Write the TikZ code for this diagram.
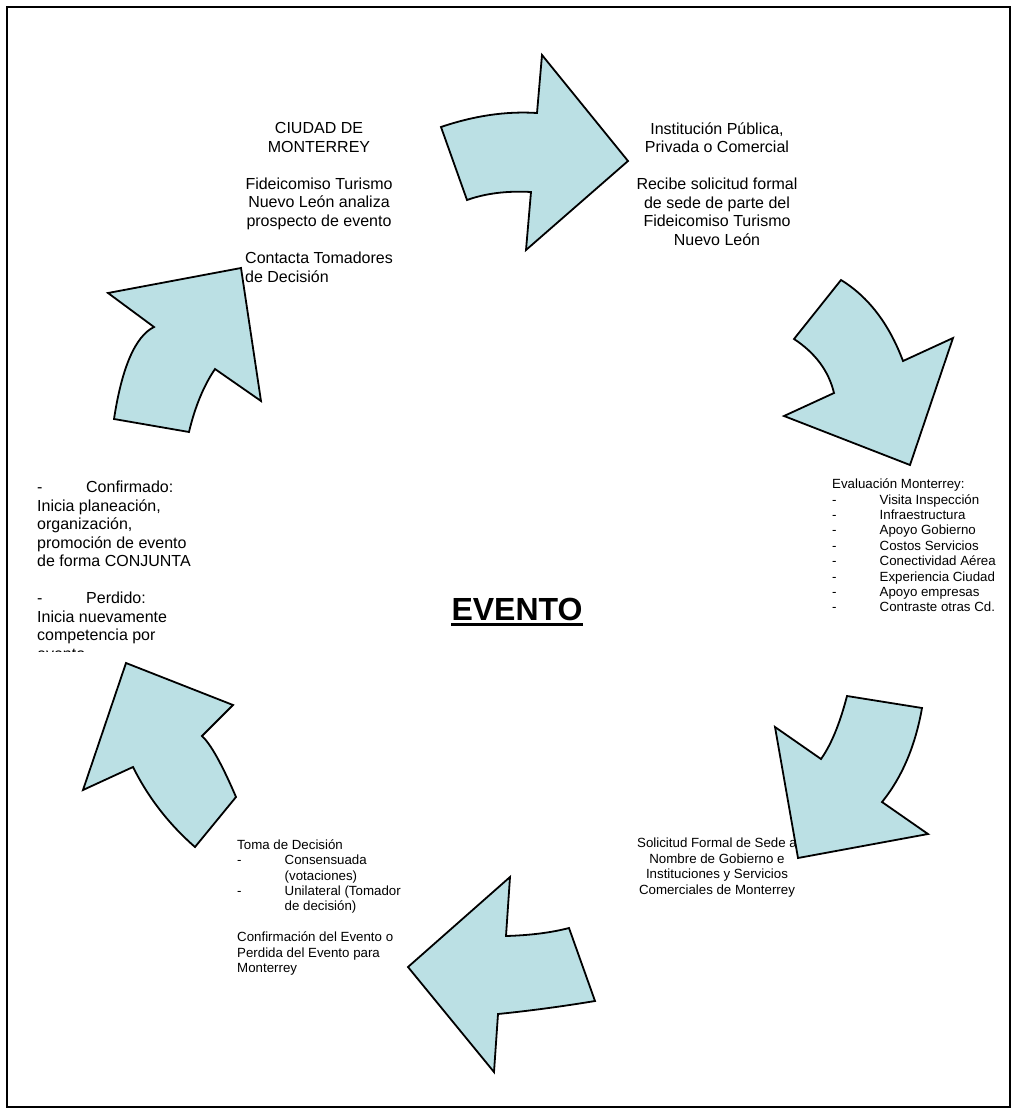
\documentclass[tikz,border=0pt]{standalone}
\usepackage{fontspec}
\setmainfont{Liberation Sans}
\usetikzlibrary{calc}
\definecolor{arrowfill}{RGB}{187,224,228}
\begin{document}
\begin{tikzpicture}[x=1pt,y=-1pt,
  cyclearrow/.style={fill=arrowfill,draw=black,line width=1.8pt,line join=miter},
  bigtext/.style={inner sep=0pt,font=\fontsize{16}{18.5}\selectfont},
  smalltext/.style={inner sep=0pt,font=\fontsize{13.3}{15.4}\selectfont}]
\useasboundingbox (0,0) rectangle (1017,1114);
\fill[white] (0,0) rectangle (1017,1114);
\draw[line width=1.4pt] (7,7) rectangle (1010,1107);

% ---- texts ----
\node[bigtext,align=center,anchor=north] (city) at (319,122.5)
  {CIUDAD DE\\MONTERREY\\[18.5pt]Fideicomiso Turismo\\Nuevo León analiza\\prospecto de evento};
\node[bigtext,align=left,anchor=north west] (contact) at (245,251.8)
  {Contacta Tomadores\\de Decisión};

\node[bigtext,align=center,anchor=north] (inst) at (717,122.2)
  {Institución Pública,\\Privada o Comercial\\[18.5pt]Recibe solicitud formal\\de sede de parte del\\Fideicomiso Turismo\\Nuevo León};

\node[smalltext,align=left,anchor=north west] (eval) at (832,478.6)
  {Evaluación Monterrey:\\
   \makebox[47.5pt][l]{-}Visita Inspección\\
   \makebox[47.5pt][l]{-}Infraestructura\\
   \makebox[47.5pt][l]{-}Apoyo Gobierno\\
   \makebox[47.5pt][l]{-}Costos Servicios\\
   \makebox[47.5pt][l]{-}Conectividad Aérea\\
   \makebox[47.5pt][l]{-}Experiencia Ciudad\\
   \makebox[47.5pt][l]{-}Apoyo empresas\\
   \makebox[47.5pt][l]{-}Contraste otras Cd.};

\begin{scope}
  \clip (0,470) rectangle (260,651);
  \node[bigtext,align=left,anchor=north west] (result) at (37,481)
    {\makebox[49pt][l]{-}Confirmado:\\
     Inicia planeación,\\
     organización,\\
     promoción de evento\\
     de forma CONJUNTA\\[18.5pt]
     \makebox[49pt][l]{-}Perdido:\\
     Inicia nuevamente\\
     competencia por\\
     evento};
\end{scope}

\node[smalltext,align=left,anchor=north west] (decision) at (237,839.3)
  {Toma de Decisión\\
   \makebox[47.5pt][l]{-}Consensuada\\
   \hspace*{47.5pt}(votaciones)\\
   \makebox[47.5pt][l]{-}Unilateral (Tomador\\
   \hspace*{47.5pt}de decisión)\\[15.4pt]
   Confirmación del Evento o\\
   Perdida del Evento para\\
   Monterrey};

\node[smalltext,align=center,anchor=north] (request) at (717,838)
  {Solicitud Formal de Sede a\\Nombre de Gobierno e\\Instituciones y Servicios\\Comerciales de Monterrey};

\node[inner sep=0pt,anchor=base,font=\fontsize{32}{36}\selectfont\bfseries] (evento) at (517,620) {EVENTO};
\draw[line width=2.3pt] ($(evento.base west)+(0,4.5)$) -- ($(evento.base east)+(0,4.5)$);

% ---- curved block arrows of the cycle ----
% top, pointing right
\draw[cyclearrow] (441,127) .. controls (474.3,115.7) and (506.3,111) .. (537,113)
  -- (542,55) -- (628,161) -- (526,250) -- (531,192)
  .. controls (507,190.7) and (485.7,193.3) .. (467,200) -- cycle;
% upper right, pointing down-right
\draw[cyclearrow] (841,280) .. controls (868.3,296.7) and (889,323.7) .. (903,361)
  -- (953,338) -- (910,465) -- (784,416) -- (834,393)
  .. controls (828.7,371) and (815.3,353) .. (794,339) -- cycle;
% lower right, pointing down-left
\draw[cyclearrow] (847,696) -- (922,708)
  .. controls (915.3,746) and (902,777.3) .. (882,802)
  -- (928,834) -- (798,858) -- (775,727) -- (821,759)
  .. controls (831,745) and (839.7,724) .. (847,696) -- cycle;
% bottom, pointing left
\draw[cyclearrow] (510,877) -- (506,936)
  .. controls (530,935.3) and (551,932.7) .. (569,928)
  -- (595,1001)
  .. controls (563,1006.3) and (530.7,1010.7) .. (498,1014)
  -- (494,1072) -- (408,967) -- cycle;
% lower left, pointing up-left
\draw[cyclearrow] (126,663) -- (233,705) -- (202,736)
  .. controls (210.7,744) and (222,764.3) .. (236,797)
  -- (195,847)
  .. controls (169,824.3) and (148.3,797.7) .. (133,767)
  -- (83,790) -- cycle;
% upper left, pointing up-right
\draw[cyclearrow] (108,293) -- (241,268) -- (261,401) -- (215,369)
  .. controls (203.7,385.7) and (195,406.7) .. (189,432)
  -- (114,419)
  .. controls (122,367) and (135.3,336.3) .. (154,327) -- cycle;
\end{tikzpicture}
\end{document}
